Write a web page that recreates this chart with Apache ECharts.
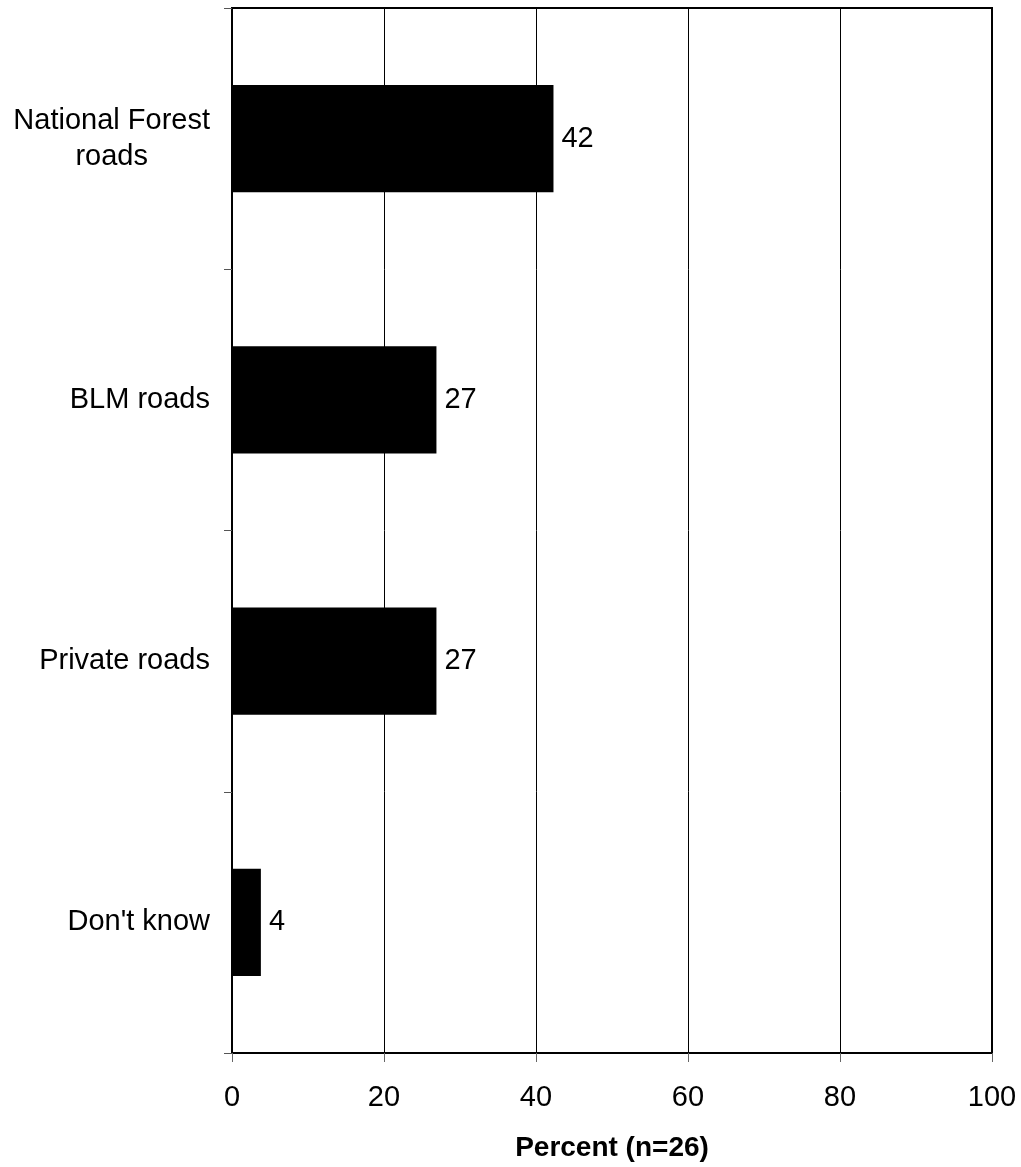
<!DOCTYPE html>
<html>
<head>
<meta charset="utf-8">
<script src="https://cdn.jsdelivr.net/npm/echarts@6/dist/echarts.min.js"></script>
<style>
html,body{margin:0;padding:0;background:#fff;}
#chart{width:1021px;height:1167px;}
</style>
</head>
<body>
<div id="chart"></div>
<script>
var categories = ['National Forest\nroads', 'BLM roads', 'Private roads', "Don't know"];
var values = [42.3, 26.9, 26.9, 3.8];
var xTicks = [0, 20, 40, 60, 80, 100];
var axisTitle = 'Percent (n=26)';

var FONT = 'Liberation Sans, Arial, sans-serif';
var FS = 29;
var chart = echarts.init(document.getElementById('chart'));
chart.setOption({
  animation: false,
  grid: {
    left: 232, right: 29, top: 8, bottom: 113,
    show: true, borderColor: '#000', borderWidth: 2, backgroundColor: 'transparent'
  },
  xAxis: {
    type: 'value',
    min: xTicks[0], max: xTicks[xTicks.length - 1], interval: 20,
    name: axisTitle,
    nameLocation: 'middle',
    nameGap: 81,
    nameTextStyle: { fontFamily: FONT, fontSize: 28, fontWeight: 'bold', color: '#000' },
    axisLine: { show: true, lineStyle: { color: '#000', width: 2 } },
    axisTick: { show: true, length: 9, inside: false, lineStyle: { color: '#666', width: 1 } },
    axisLabel: { fontFamily: FONT, fontSize: FS, color: '#000', margin: 30 },
    splitLine: { show: true, lineStyle: { color: '#000', width: 1 } }
  },
  yAxis: {
    type: 'category',
    data: categories,
    inverse: true,
    axisLine: { show: true, lineStyle: { color: '#000', width: 2 } },
    axisTick: { show: true, length: 8, inside: false, lineStyle: { color: '#555', width: 1 } },
    axisLabel: {
      fontFamily: FONT, fontSize: FS, color: '#000', margin: 22, lineHeight: 36,
      formatter: function (v) {
        return v.split('\n').map(function (s) { return '{c|' + s + '}'; }).join('\n');
      },
      rich: { c: { fontFamily: FONT, fontSize: FS, color: '#000', align: 'center', lineHeight: 36 } }
    },
    splitLine: { show: false }
  },
  series: [{
    type: 'bar',
    data: values,
    barWidth: '41%',
    itemStyle: { color: '#000' },
    label: {
      show: true, position: 'right', distance: 8,
      fontFamily: FONT, fontSize: FS, color: '#000',
      formatter: function (p) { return Math.round(p.value); }
    }
  }]
});
</script>
</body>
</html>
